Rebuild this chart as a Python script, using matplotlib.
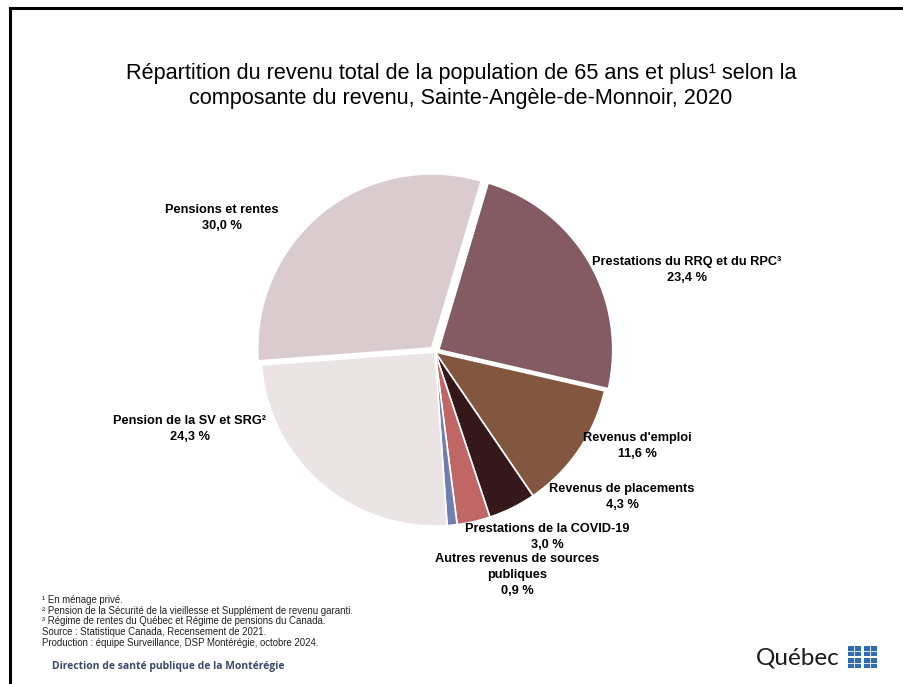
import matplotlib
matplotlib.use("Agg")
import matplotlib.pyplot as plt
from matplotlib.patches import Rectangle
from matplotlib.lines import Line2D

categories = ["Prestations du RRQ et du RPC³", "Revenus d'emploi", "Revenus de placements",
              "Prestations de la COVID-19", "Autres revenus de sources\npubliques",
              "Pension de la SV et SRG²", "Pensions et rentes"]
values = [23.4, 11.6, 4.3, 3.0, 0.9, 24.3, 30.0]
value_labels = ["23,4 %", "11,6 %", "4,3 %", "3,0 %", "0,9 %", "24,3 %", "30,0 %"]
colors = ["#845B63", "#83573F", "#35181A", "#C06665", "#6F80B0", "#EBE4E5", "#DACBCF"]
explode = [0.025, 0, 0, 0, 0, 0, 0.03]

# label positions in figure pixels (x center, first line center y)
label_pos = [(687, 264), (637, 440), (622, 491), (547, 531), (517, 561), (190, 423), (222, 212)]

W, H = 904, 684
fig = plt.figure(figsize=(W / 100, H / 100), dpi=100)
fig.patch.set_facecolor("white")

def fx(x):
    return x / W

def fy(y):
    return 1 - y / H

# frame (left and top lines)
fig.add_artist(Line2D([fx(10), fx(10)], [fy(8), 0], color="black", lw=2.2, transform=fig.transFigure))
fig.add_artist(Line2D([fx(10), 1], [fy(8), fy(8)], color="black", lw=2.2, transform=fig.transFigure))

title = ("Répartition du revenu total de la population de 65 ans et plus¹ selon la\n"
         "composante du revenu, Sainte-Angèle-de-Monnoir, 2020")
fig.text(fx(461), fy(86), title, ha="center", va="center", fontsize=15.6,
         family=["Liberation Sans", "DejaVu Sans"], color="black", linespacing=1.2)

cx, cy, r = 435, 352, 174
ax = fig.add_axes([fx(cx - r), fy(cy + r), 2 * r / W, 2 * r / H])
wedges, _ = ax.pie(values, colors=colors, explode=explode, startangle=73.5, counterclock=False,
                   radius=1, wedgeprops=dict(edgecolor="white", linewidth=1.2))
for w in wedges:
    w.set_clip_on(False)
ax.set_xlim(-1, 1)
ax.set_ylim(-1, 1)
ax.set_aspect("equal")
ax.axis("off")

lab_font = ["Liberation Sans Narrow", "Liberation Sans", "DejaVu Sans"]
for cat, vl, (x, y) in zip(categories, value_labels, label_pos):
    fig.text(fx(x), fy(y - 8), cat + "\n" + vl, ha="center", va="top", fontsize=9.2,
             fontweight="bold", family=lab_font, color="black", linespacing=1.42)

notes = ["¹ En ménage privé.",
         "² Pension de la Sécurité de la vieillesse et Supplément de revenu garanti.",
         "³ Régime de rentes du Québec et Régime de pensions du Canada.",
         "Source : Statistique Canada, Recensement de 2021.",
         "Production : équipe Surveillance, DSP Montérégie, octobre 2024."]
for i, t in enumerate(notes):
    fig.text(fx(42), fy(600 + i * 10.7), t, ha="left", va="center", fontsize=6.9,
             family=["Liberation Sans", "DejaVu Sans"], color="#222222")

fig.text(fx(52), fy(667), "Direction de santé publique de la Montérégie", ha="left", va="center",
         fontsize=7.45, fontweight="bold", family=["Open Sans", "DejaVu Sans"], color="#3B4A6B")

fig.text(fx(756), fy(658), "Québec", ha="left", va="center", fontsize=17.5,
         family=["Lato", "DejaVu Sans"], color="#1A1A1A")
blue = "#2E6DB4"
for (x0, y0) in [(848, 646), (864, 646), (848, 658), (864, 658)]:
    fig.add_artist(Rectangle((fx(x0), fy(y0 + 10)), 13 / W, 10 / H, facecolor=blue, edgecolor="none",
                             lw=0, transform=fig.transFigure))
    fig.add_artist(Line2D([fx(x0), fx(x0 + 13)], [fy(y0 + 5), fy(y0 + 5)], color="white", lw=0.6,
                          transform=fig.transFigure))
    fig.add_artist(Line2D([fx(x0 + 6.5), fx(x0 + 6.5)], [fy(y0), fy(y0 + 10)], color="white", lw=0.6,
                          transform=fig.transFigure))

fig.savefig("out.png", dpi=100, facecolor="white")
